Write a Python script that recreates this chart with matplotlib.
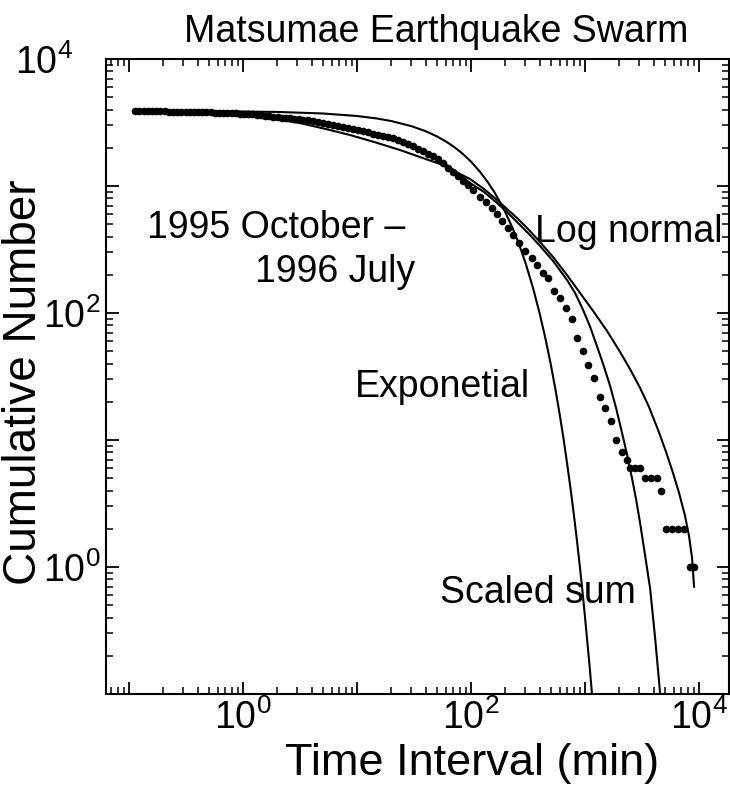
import numpy as np
import matplotlib
matplotlib.use("Agg")
import matplotlib.pyplot as plt
import matplotlib.ticker as mticker
import matplotlib.transforms as mtransforms

plt.rcParams['font.family'] = ['Liberation Sans', 'DejaVu Sans']
plt.rcParams['mathtext.fontset'] = 'custom'
plt.rcParams['mathtext.rm'] = 'Liberation Sans'
plt.rcParams['mathtext.it'] = 'Liberation Sans:italic'

# observed cumulative number of intervals longer than t (dots)
dots_t = [0.113, 0.123, 0.134, 0.146, 0.158, 0.173, 0.188, 0.205, 0.222, 0.242,
          0.264, 0.287, 0.313, 0.340, 0.370, 0.403, 0.439, 0.478, 0.519, 0.565,
          0.615, 0.670, 0.729, 0.793, 0.863, 0.940, 1.02, 1.11, 1.21, 1.32,
          1.44, 1.56, 1.70, 1.85, 2.01, 2.19, 2.39, 2.60, 2.82, 3.08, 3.35,
          3.72, 4.11, 4.55, 5.03, 5.57, 6.16, 6.81, 7.54, 8.34, 9.23,
          10.2, 11.3, 12.5, 13.8, 15.3, 16.9, 18.7, 20.7, 22.9, 25.4,
          28.1, 31.0, 34.4, 38.0, 42.1, 46.5, 51.4, 56.9, 63.0, 69.7,
          77.1, 85.3, 94.4, 104,
          120, 135, 153, 169, 187, 211, 234, 264, 298, 343, 379, 428, 474,
          535, 604, 681, 769, 851, 960, 1060, 1200, 1350, 1500, 1690, 1870,
          2110, 2340,
          2480, 2750, 3040, 3360, 3790, 4280, 4650, 5140, 5800, 6540, 7390,
          8340, 9040]
dots_n = [3900, 3900, 3890, 3890, 3880, 3880, 3870, 3870, 3860, 3860,
          3850, 3850, 3840, 3840, 3830, 3830, 3820, 3810, 3800, 3790,
          3780, 3770, 3760, 3740, 3730, 3720, 3710, 3700, 3670, 3640,
          3610, 3580, 3560, 3520, 3490, 3460, 3440, 3410, 3380, 3350, 3330,
          3290, 3230, 3180, 3130, 3070, 3020, 2980, 2930, 2880, 2830,
          2770, 2710, 2650, 2590, 2540, 2480, 2430, 2370, 2320, 2240,
          2140, 2050, 1960, 1870, 1790, 1710, 1630, 1520, 1390, 1280,
          1190, 1100, 1020, 931,
          819, 748, 671, 597, 530, 467, 411, 356, 310, 270, 239, 207, 189,
          149, 131, 109, 90, 64, 50, 39, 31, 22, 18, 14, 10,
          8, 7,
          6, 6, 6, 5, 5, 5, 4, 2, 2, 2, 2,
          1, 1]

# model curves
exp_t = [0.113, 0.5, 2, 5, 10, 15, 20, 30, 40, 50, 60, 70, 80, 90, 100,
         120, 140, 160, 180, 200, 230, 260, 300, 350, 400, 450, 500, 550,
         600, 650, 700, 750, 800, 850, 900, 950, 1000, 1050, 1100, 1150, 1200]
exp_n = [3900, 3882, 3830, 3725, 3558, 3399, 3246, 2960, 2700, 2462, 2246,
         2048, 1868, 1704, 1554, 1293, 1075, 895, 744, 620, 472, 360, 249,
         157, 99, 62.6, 39.6, 25.0, 15.8, 10.0, 6.3, 4.0, 2.53, 1.60, 1.01,
         0.64, 0.40, 0.25, 0.16, 0.10, 0.064]

lognorm_t = [0.113, 0.153, 0.42, 0.695, 1.15, 1.91, 3.16, 5.24, 8.69, 14.4,
             23.8, 35.7, 53.5, 72.4, 98, 130, 169, 207, 253, 316, 403, 524,
             695, 903, 1175, 1560, 2030, 2480, 3040, 3640, 4370, 5140, 5910,
             6680, 7540, 8170, 8680, 9040]
lognorm_n = [3900, 3875, 3790, 3710, 3560, 3360, 3130, 2820, 2520, 2210,
             1920, 1690, 1490, 1300, 1135, 947, 776, 659, 560, 459, 362, 276,
             199, 144, 104, 72.1, 49.3, 36.2, 25.7, 18.2, 12.0, 8.05, 5.5,
             3.83, 2.52, 1.75, 1.18, 0.70]

sum_t = [0.113, 0.153, 0.42, 0.695, 1.15, 1.91, 3.16, 5.24, 8.69, 14.4, 23.8,
         35.7, 53.5, 72.4, 98, 130, 169, 207, 269, 329, 403, 524, 695, 817,
         960, 1110, 1270, 1440, 1660, 1870, 2110, 2340, 2580, 2800, 3040,
         3360, 3720, 4110, 4550, 4730]
sum_n = [3900, 3880, 3830, 3740, 3690, 3530, 3380, 3150, 2860, 2570, 2260,
         1905, 1600, 1310, 1056, 897, 735, 624, 493, 411, 337, 257, 182, 144,
         106, 77.6, 55.0, 39.7, 26.6, 17.9, 11.4, 7.62, 5.02, 3.43, 2.22,
         1.24, 0.68, 0.281, 0.102, 0.08]

fig = plt.figure(figsize=(7.3, 7.93), dpi=100)
ax = fig.add_axes([0.1452, 0.1248, 0.8534, 0.8008])

ax.plot(exp_t, exp_n, color='black', lw=1.5)
ax.plot(lognorm_t, lognorm_n, color='black', lw=1.5)
ax.plot(sum_t, sum_n, color='black', lw=1.5)
ax.plot(dots_t, dots_n, 'o', color='black', ms=5.5, mew=0)

ax.set_xscale('log')
ax.set_yscale('log')
ax.set_xlim(0.0628, 18300)
ax.set_ylim(0.1, 1e4)

decades = [0.1, 1, 10, 100, 1000, 10000]
x_labels = ['', r'$\mathregular{10^{0}}$', '', r'$\mathregular{10^{2}}$', '', r'$\mathregular{10^{4}}$']
y_labels = ['', r'$\mathregular{10^{0}}$', '', r'$\mathregular{10^{2}}$', '', r'$\mathregular{10^{4}}$']
ax.xaxis.set_major_locator(mticker.FixedLocator(decades))
ax.xaxis.set_major_formatter(mticker.FixedFormatter(x_labels))
ax.yaxis.set_major_locator(mticker.FixedLocator(decades))
ax.yaxis.set_major_formatter(mticker.FixedFormatter(y_labels))
ax.xaxis.set_minor_locator(mticker.LogLocator(base=10, subs=np.arange(2, 10), numticks=20))
ax.yaxis.set_minor_locator(mticker.LogLocator(base=10, subs=np.arange(2, 10), numticks=20))
ax.xaxis.set_minor_formatter(mticker.NullFormatter())
ax.yaxis.set_minor_formatter(mticker.NullFormatter())

ax.tick_params(which='both', direction='in', top=True, right=True, labelsize=27)
ax.tick_params(which='major', length=9, width=1.3, pad=4)
ax.tick_params(which='minor', length=5, width=1.1)
for s in ax.spines.values():
    s.set_linewidth(1.5)

# the top y label sits further left in the original
lab4 = ax.get_yticklabels()[5]
lab4.set_transform(lab4.get_transform() +
                   mtransforms.ScaledTranslation(-20 / 72, 0, fig.dpi_scale_trans))

ax.set_xlabel('Time Interval (min)', fontsize=32.5)
ax.xaxis.set_label_coords(0.587, -0.077)
ax.set_ylabel('Cumulative Number', fontsize=33)
ax.yaxis.set_label_coords(-0.097, 0.491)
ax.set_title('Matsumae Earthquake Swarm', fontsize=27, pad=12, x=0.53)

ax.text(0.144, 390, '1995 October \u2013', fontsize=27, va='baseline')
ax.text(1.27, 175, '1996 July', fontsize=27, va='baseline')
ax.text(364, 362, 'Log normal', fontsize=27, va='baseline')
ax.text(9.6, 21.8, 'Exponetial', fontsize=27, va='baseline')
ax.text(53.5, 0.52, 'Scaled sum', fontsize=27, va='baseline')

fig.savefig('out.png', dpi=100)
